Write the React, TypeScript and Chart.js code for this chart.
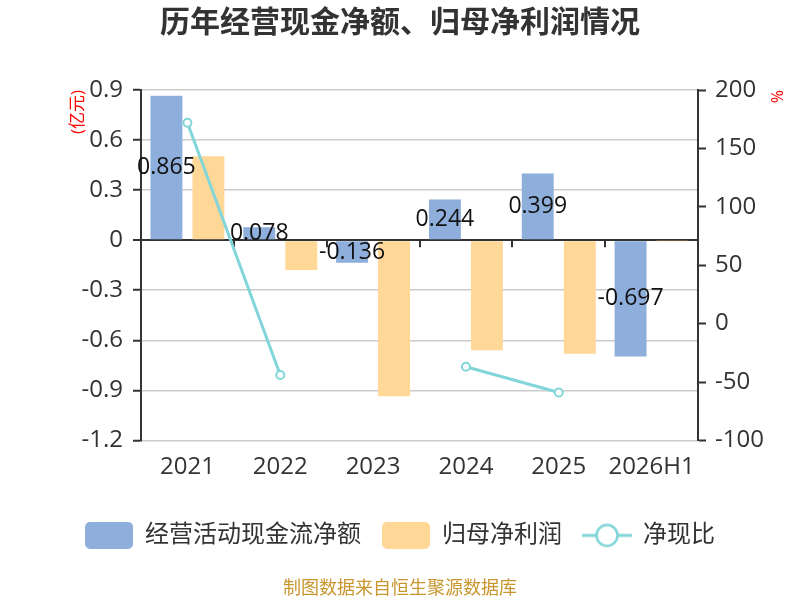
import React, { useEffect, useRef } from 'react';
import { Chart, registerables } from 'chart.js';

Chart.register(...registerables);

const categories = ['2021', '2022', '2023', '2024', '2025', '2026H1'];
const operatingCashFlow = [0.865, 0.078, -0.136, 0.244, 0.399, -0.697];
const netProfit = [0.503, -0.179, -0.935, -0.66, -0.68, -0.003];
const cashRatio: (number | null)[] = [172, -44, null, -37, -59, null];

const leftMin = -1.2;
const leftMax = 0.9;
const leftStep = 0.3;
const rightMin = -100;
const rightMax = 200;
const rightStep = 50;

const seriesNames = ['经营活动现金流净额', '归母净利润', '净现比'];
const titleText = '历年经营现金净额、归母净利润情况';
const footerText = '制图数据来自恒生聚源数据库';
const leftUnit = '(亿元)';
const rightUnit = '%';

const BLUE = '#8eaedb';
const ORANGE = '#ffd796';
const TEAL = '#82d5d8';
const FONT = "'Open Sans', 'Noto Sans CJK SC', sans-serif";

function makeBox(color: string) {
  const c = document.createElement('canvas');
  c.width = 48;
  c.height = 27;
  const ctx = c.getContext('2d')!;
  ctx.fillStyle = color;
  ctx.beginPath();
  (ctx as any).roundRect(0, 0, 48, 27, 5);
  ctx.fill();
  return c;
}

function makeLineMarker(color: string) {
  const c = document.createElement('canvas');
  c.width = 50;
  c.height = 26;
  const ctx = c.getContext('2d')!;
  ctx.strokeStyle = color;
  ctx.lineWidth = 3;
  ctx.beginPath();
  ctx.moveTo(0, 13);
  ctx.lineTo(50, 13);
  ctx.stroke();
  ctx.beginPath();
  ctx.arc(25, 13, 10.5, 0, Math.PI * 2);
  ctx.fillStyle = '#fff';
  ctx.fill();
  ctx.lineWidth = 2.5;
  ctx.stroke();
  return c;
}

const valueLabels = {
  id: 'valueLabels',
  afterDatasetsDraw(chart: any) {
    const meta = chart.getDatasetMeta(0);
    const ctx = chart.ctx;
    ctx.save();
    ctx.font = `23px ${FONT}`;
    ctx.fillStyle = '#111';
    ctx.textAlign = 'center';
    ctx.textBaseline = 'middle';
    meta.data.forEach((bar: any, i: number) => {
      const v = chart.data.datasets[0].data[i];
      if (v === null || v === undefined) return;
      const y = (bar.y + bar.base) / 2;
      ctx.fillText(String(v), bar.x, y);
    });
    ctx.restore();
  },
};

const zeroTicks = {
  id: 'zeroTicks',
  beforeDatasetsDraw(chart: any) {
    const x = chart.scales.x;
    const y = chart.scales.y;
    const y0 = y.getPixelForValue(0);
    const n = categories.length;
    const w = x.width / n;
    const ctx = chart.ctx;
    ctx.save();
    ctx.strokeStyle = '#333';
    ctx.lineWidth = 2;
    for (let k = 1; k < n; k++) {
      const px = Math.round(x.left + k * w);
      ctx.beginPath();
      ctx.moveTo(px, y0);
      ctx.lineTo(px, y0 + 7);
      ctx.stroke();
    }
    ctx.restore();
  },
};

function fmt(v: number) {
  const r = parseFloat(Number(v).toFixed(2));
  return (Object.is(r, -0) ? 0 : r).toString();
}

export default function App() {
  const ref = useRef<HTMLCanvasElement>(null);
  useEffect(() => {
    if (!ref.current) return;
    const blueBox = makeBox(BLUE);
    const orangeBox = makeBox(ORANGE);
    const lineMarker = makeLineMarker(TEAL);
    const chart = new Chart(ref.current, {
      type: 'bar',
      data: {
        labels: categories,
        datasets: [
          {
            type: 'bar',
            label: seriesNames[0],
            data: operatingCashFlow,
            backgroundColor: BLUE,
            yAxisID: 'y',
            categoryPercentage: 0.905,
            barPercentage: 0.76,
            order: 2,
          },
          {
            type: 'bar',
            label: seriesNames[1],
            data: netProfit,
            backgroundColor: ORANGE,
            yAxisID: 'y',
            categoryPercentage: 0.905,
            barPercentage: 0.76,
            order: 2,
          },
          {
            type: 'line',
            label: seriesNames[2],
            data: cashRatio,
            borderColor: TEAL,
            backgroundColor: '#fff',
            borderWidth: 3,
            pointRadius: 4,
            pointBorderWidth: 2,
            pointBackgroundColor: '#fff',
            pointBorderColor: TEAL,
            spanGaps: false,
            yAxisID: 'y1',
            order: 1,
          } as any,
        ],
      },
      options: {
        responsive: false,
        animation: false,
        layout: { padding: 0 },
        plugins: {
          title: {
            display: true,
            text: titleText,
            color: '#333',
            font: { family: FONT, size: 30, weight: 'bold' },
            padding: { top: 5, bottom: 49 },
          },
          subtitle: {
            display: true,
            text: footerText,
            position: 'bottom',
            color: '#c8962d',
            font: { family: FONT, size: 18, weight: 'normal' },
            padding: { top: 21, bottom: 0 },
          },
          legend: {
            display: true,
            position: 'bottom',
            labels: {
              usePointStyle: true,
              pointStyleWidth: 48,
              boxHeight: 24,
              padding: 21,
              color: '#333',
              font: { family: FONT, size: 24 },
              generateLabels: () => [
                { text: seriesNames[0], pointStyle: blueBox, fillStyle: BLUE, strokeStyle: BLUE, lineWidth: 0, hidden: false, datasetIndex: 0, fontColor: '#333' },
                { text: seriesNames[1], pointStyle: orangeBox, fillStyle: ORANGE, strokeStyle: ORANGE, lineWidth: 0, hidden: false, datasetIndex: 1, fontColor: '#333' },
                { text: seriesNames[2], pointStyle: lineMarker, fillStyle: TEAL, strokeStyle: TEAL, lineWidth: 0, hidden: false, datasetIndex: 2, fontColor: '#333' },
              ] as any,
            },
          },
          tooltip: { enabled: false },
        },
        scales: {
          x: {
            type: 'category',
            grid: { display: false, drawTicks: false },
            border: { display: false },
            ticks: { color: '#333', font: { family: FONT, size: 24 }, padding: 12 },
            afterFit: (s: any) => { s.height = 62; },
          },
          y: {
            type: 'linear',
            position: 'left',
            min: leftMin,
            max: leftMax,
            ticks: {
              stepSize: leftStep,
              color: '#333',
              font: { family: FONT, size: 24 },
              padding: 10,
              callback: (v: any) => fmt(v),
            },
            grid: {
              color: (c: any) => (c.tick && Math.abs(c.tick.value) < 1e-9 ? '#333' : '#cccccc'),
              lineWidth: (c: any) => (c.tick && Math.abs(c.tick.value) < 1e-9 ? 2 : 1.5),
              tickColor: '#333',
              tickWidth: 2,
              tickLength: 8,
            },
            border: { display: true, color: '#333', width: 2 },
            title: {
              display: true,
              text: leftUnit,
              align: 'end',
              color: '#ff0000',
              font: { family: FONT, size: 17 },
              padding: { top: 68, bottom: 0 },
            },
            afterFit: (s: any) => { s.width = 141; },
          },
          y1: {
            type: 'linear',
            position: 'right',
            min: rightMin,
            max: rightMax,
            ticks: {
              stepSize: rightStep,
              color: '#333',
              font: { family: FONT, size: 24 },
              padding: 9,
            },
            grid: {
              drawOnChartArea: false,
              tickColor: '#333',
              tickWidth: 2,
              tickLength: 8,
            },
            border: { display: true, color: '#333', width: 2 },
            title: {
              display: true,
              text: rightUnit,
              align: 'end',
              color: '#ff0000',
              font: { family: FONT, size: 16 },
              padding: { top: 15, bottom: 0 },
            },
            afterFit: (s: any) => { s.width = 102; },
          },
        },
      },
      plugins: [zeroTicks, valueLabels],
    });
    return () => chart.destroy();
  }, []);

  return (
    <div style={{ position: 'fixed', left: 0, top: 0, width: 800, height: 600, background: '#fff' }}>
      <canvas ref={ref} width={800} height={600} style={{ width: 800, height: 600, display: 'block' }} />
    </div>
  );
}
